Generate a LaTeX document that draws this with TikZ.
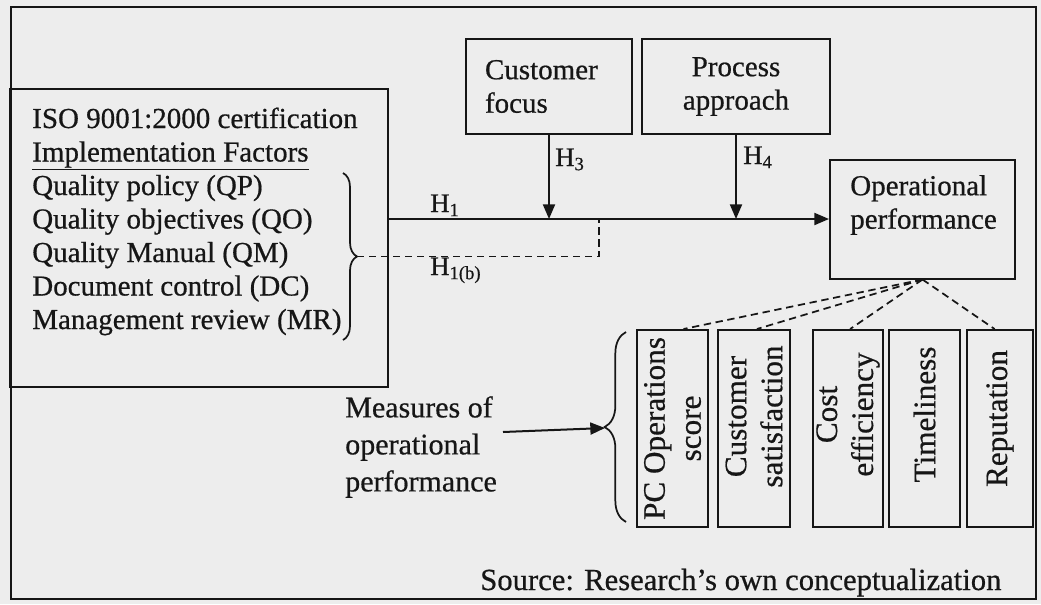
\documentclass[tikz,border=0pt]{standalone}
\usepackage{fontspec}
\setmainfont{Liberation Serif}[RawFeature={embolden=0.6}]
\usetikzlibrary{arrows.meta,decorations.pathreplacing,calc}
\definecolor{bg}{RGB}{237,237,237}
\definecolor{ink}{RGB}{22,22,22}
\begin{document}
\begin{tikzpicture}[x=0.75pt,y=-0.75pt,
  every node/.style={font=\fontsize{21.75}{25.1}\selectfont, text=ink},
  box/.style={draw=ink, line width=1.5pt, rectangle, inner sep=0pt},
  txt/.style={inner sep=0pt, align=left},
  htxt/.style={inner sep=0pt, font=\fontsize{20}{24}\selectfont},
  mtxt/.style={inner sep=0pt, align=left, font=\fontsize{22.5}{27.75}\selectfont},
  vtxt/.style={inner sep=0pt, align=center, rotate=90, font=\fontsize{23.4}{27}\selectfont},
  arr/.style={draw=ink, line width=1.5pt, -{Triangle[length=11pt,width=9pt]}},
  dsh/.style={draw=ink, line width=1.3pt, dash pattern=on 5.5pt off 3.5pt},
  brc/.style={draw=ink, line width=1.3pt, decorate, decoration={brace, amplitude=#1}},
]
\fill[bg] (0,0) rectangle (1041,604);
\useasboundingbox (0,0) rectangle (1041,604);

% outer frame
\node[box, minimum width=768.75pt, minimum height=444pt] (frame) at (523.5,303) {};

% left box with implementation factors
\node[box, minimum width=283.5pt, minimum height=223.5pt] (lb) at (199,238) {};
\node[txt, anchor=base west] (l1) at (32,128) {ISO 9001:2000 certification};
\node[txt, anchor=base west] (l2) at (32,161.5) {\underline{Implementation Factors}};
\node[txt, anchor=base west] (l3) at (32,195) {Quality policy (QP)};
\node[txt, anchor=base west] (l4) at (32,228.5) {Quality objectives (QO)};
\node[txt, anchor=base west] (l5) at (32,262) {Quality Manual (QM)};
\node[txt, anchor=base west] (l6) at (32,295.5) {Document control (DC)};
\node[txt, anchor=base west] (l7) at (32,329) {Management review (MR)};
\draw[brc=10.5pt] (343,173) -- (343,340);
\coordinate (b1) at (357,256.5);

% top boxes
\node[box, minimum height=71.25pt, text width=96pt, inner xsep=14.25pt, align=left] (cf) at (549,86.5) {Customer\\focus};
\node[box, minimum width=141pt, minimum height=71.25pt, align=center] (pa) at (736,86.5) {Process\\approach};

% operational performance
\node[box, minimum width=138.75pt, minimum height=89.25pt] (op) at (922.5,219) {};
\node[txt, anchor=west] (opT) at (850,205) {Operational\\performance};

% H1 line and moderators
\coordinate (h1s) at (lb.east |- op.west);
\draw[arr] (h1s) -- (op.west);
\draw[arr] (cf.south) -- (cf.south |- op.west);
\draw[arr] (pa.south) -- (pa.south |- op.west);
\coordinate (jc) at (599,256.5);
\coordinate (jn) at (jc |- op.west);
\draw[dsh] (b1) -- (jc) -- (jn);

\node[htxt, anchor=base west] (H1) at (430,212) {H\textsubscript{1}};
\node[htxt, anchor=base west] (H1b) at (430,275) {H\textsubscript{1(b)}};
\node[htxt, anchor=base west] (H3) at (555,166) {H\textsubscript{3}};
\node[htxt, anchor=base west] (H4) at (743,164) {H\textsubscript{4}};

% measures
\node[box, minimum width=53.25pt, minimum height=147.75pt] (pc) at (672.5,428.5) {};
\node[box, minimum width=54pt, minimum height=147.75pt] (cs) at (754,428.5) {};
\node[box, minimum width=52.5pt, minimum height=147.75pt] (ce) at (848,428.5) {};
\node[box, minimum width=53.25pt, minimum height=147.75pt] (tl) at (924.5,428.5) {};
\node[box, minimum width=49.5pt, minimum height=147.75pt] (rp) at (1000,428.5) {};
\node[vtxt] (pcT) at (pc) {PC Operations\\score};
\node[vtxt] (csT) at ($(cs)+(0,-12)$) {Customer\\satisfaction};
\node[vtxt] (ceT) at ($(ce)+(0,-14)$) {Cost\\efficiency};
\node[vtxt] (tlT) at ($(tl)+(0,-14)$) {Timeliness};
\node[vtxt] (rpT) at ($(rp)+(0,-10)$) {Reputation};

\draw[dsh] (op.south) -- ($(pc.north west)!0.65!(pc.north east)$);
\draw[dsh] (op.south) -- ($(cs.north west)!0.54!(cs.north east)$);
\draw[dsh] (op.south) -- ($(ce.north west)!0.53!(ce.north east)$);
\draw[dsh] (op.south) -- ($(rp.north west)!0.42!(rp.north east)$);

\node[mtxt, anchor=west] (mT) at (345,447) {Measures of\\operational\\performance};
\draw[brc=16pt] (626,522) -- (626,332);
\coordinate (mt) at (605,428);
\coordinate (ms) at (503,432);
\draw[arr] (ms) -- (mt);

\node[inner sep=0pt, anchor=base west, font=\fontsize{23}{27}\selectfont] (src) at (480,590) {Source: Research’s own conceptualization};
\end{tikzpicture}
\end{document}
